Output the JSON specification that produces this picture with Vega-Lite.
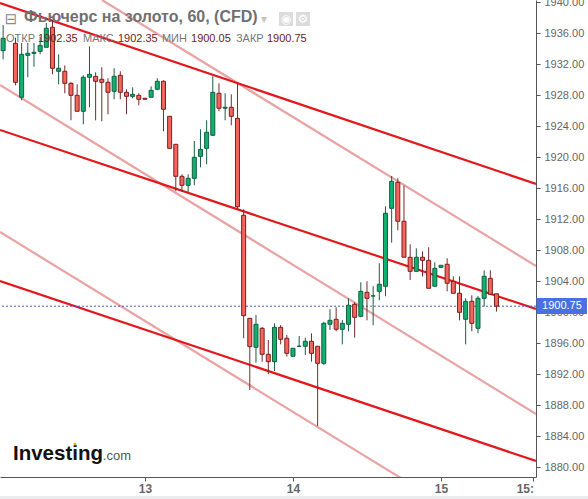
{"$schema":"https://vega.github.io/schema/vega-lite/v6.json","width":536,"height":477,"autosize":{"type":"none"},"padding":{"left":0,"right":52,"top":0,"bottom":22},"background":"#ffffff","config":{"view":{"stroke":null},"font":"Liberation Sans"},
"title":{"text":"Фьючерс на золото, 60, (CFD)","anchor":"start","frame":"group","dx":24,"dy":33,"fontSize":16,"font":"Liberation Sans","fontWeight":"bold","color":"#707070","zindex":1},
"datasets":{
"candles":[
{"t":"2020-10-12T01:00","o":1933.72,"h":1937.03,"l":1932.61,"c":1935.32},
{"t":"2020-10-12T03:00","o":1934.67,"h":1935.4,"l":1929.25,"c":1929.64},
{"t":"2020-10-12T04:00","o":1927.71,"h":1934.71,"l":1927.32,"c":1933.25},
{"t":"2020-10-12T05:00","o":1933.12,"h":1934.71,"l":1930.29,"c":1933.38},
{"t":"2020-10-12T06:00","o":1933.38,"h":1934.71,"l":1931.65,"c":1933.51},
{"t":"2020-10-12T07:00","o":1933.64,"h":1935.52,"l":1933.25,"c":1934.41},
{"t":"2020-10-12T08:00","o":1934.16,"h":1937.29,"l":1934.16,"c":1936.61},
{"t":"2020-10-12T09:00","o":1936.74,"h":1937.68,"l":1930.67,"c":1931.45},
{"t":"2020-10-12T10:00","o":1931.06,"h":1933.25,"l":1929.38,"c":1931.45},
{"t":"2020-10-12T11:00","o":1931.06,"h":1931.83,"l":1928.22,"c":1929.51},
{"t":"2020-10-12T12:00","o":1929.51,"h":1929.64,"l":1924.74,"c":1927.96},
{"t":"2020-10-12T13:00","o":1927.96,"h":1929.38,"l":1925.9,"c":1925.9},
{"t":"2020-10-12T14:00","o":1925.9,"h":1930.54,"l":1924.22,"c":1930.29},
{"t":"2020-10-12T15:00","o":1930.29,"h":1934.29,"l":1926.41,"c":1930.67},
{"t":"2020-10-12T16:00","o":1930.41,"h":1930.93,"l":1924.74,"c":1929.77},
{"t":"2020-10-12T17:00","o":1930.03,"h":1931.58,"l":1924.61,"c":1929.64},
{"t":"2020-10-12T18:00","o":1929.64,"h":1930.16,"l":1925.51,"c":1928.35},
{"t":"2020-10-12T19:00","o":1928.48,"h":1931.45,"l":1927.45,"c":1930.41},
{"t":"2020-10-12T20:00","o":1930.54,"h":1931.06,"l":1927.45,"c":1928.35},
{"t":"2020-10-12T21:00","o":1928.35,"h":1928.74,"l":1925.51,"c":1927.83},
{"t":"2020-10-12T22:00","o":1927.83,"h":1928.99,"l":1927.58,"c":1928.09},
{"t":"2020-10-12T23:00","o":1927.96,"h":1928.22,"l":1926.67,"c":1927.45},
{"t":"2020-10-13T00:00","o":1927.58,"h":1927.58,"l":1927.45,"c":1927.45},
{"t":"2020-10-13T01:00","o":1927.71,"h":1929.12,"l":1927.71,"c":1928.61},
{"t":"2020-10-13T02:00","o":1928.74,"h":1930.16,"l":1928.61,"c":1929.77},
{"t":"2020-10-13T03:00","o":1929.77,"h":1929.9,"l":1923.32,"c":1926.16},
{"t":"2020-10-13T04:00","o":1925.25,"h":1925.25,"l":1921.12,"c":1921.12},
{"t":"2020-10-13T05:00","o":1921.64,"h":1921.64,"l":1915.58,"c":1917.51},
{"t":"2020-10-13T06:00","o":1917.51,"h":1917.77,"l":1915.58,"c":1916.35},
{"t":"2020-10-13T07:00","o":1916.35,"h":1917.77,"l":1915.45,"c":1917.25},
{"t":"2020-10-13T08:00","o":1917.25,"h":1922.07,"l":1916.35,"c":1919.96},
{"t":"2020-10-13T09:00","o":1920.09,"h":1923.58,"l":1918.67,"c":1920.99},
{"t":"2020-10-13T10:00","o":1921.12,"h":1924.74,"l":1919.06,"c":1923.19},
{"t":"2020-10-13T11:00","o":1922.8,"h":1930.41,"l":1922.8,"c":1928.35},
{"t":"2020-10-13T12:00","o":1928.22,"h":1929.51,"l":1925.9,"c":1926.29},
{"t":"2020-10-13T13:00","o":1926.29,"h":1928.22,"l":1924.74,"c":1926.41},
{"t":"2020-10-13T14:00","o":1926.41,"h":1928.09,"l":1924.09,"c":1925.25},
{"t":"2020-10-13T15:00","o":1924.99,"h":1929.51,"l":1913.25,"c":1913.59},
{"t":"2020-10-13T16:00","o":1912.48,"h":1913.25,"l":1896.61,"c":1899.53},
{"t":"2020-10-13T17:00","o":1899.19,"h":1899.19,"l":1889.94,"c":1895.53},
{"t":"2020-10-13T18:00","o":1895.45,"h":1899.62,"l":1893.46,"c":1898.42},
{"t":"2020-10-13T19:00","o":1897.9,"h":1898.07,"l":1893.59,"c":1894.54},
{"t":"2020-10-13T20:00","o":1894.54,"h":1896.39,"l":1891.96,"c":1893.59},
{"t":"2020-10-13T21:00","o":1893.59,"h":1898.54,"l":1892.39,"c":1898.03},
{"t":"2020-10-13T22:00","o":1898.03,"h":1898.33,"l":1895.83,"c":1896.48},
{"t":"2020-10-13T23:00","o":1896.61,"h":1897.03,"l":1894.24,"c":1894.67},
{"t":"2020-10-14T00:00","o":1894.29,"h":1895.32,"l":1894.29,"c":1895.32},
{"t":"2020-10-14T01:00","o":1895.58,"h":1896.91,"l":1895.58,"c":1895.58},
{"t":"2020-10-14T02:00","o":1895.58,"h":1896.69,"l":1894.45,"c":1896.22},
{"t":"2020-10-14T03:00","o":1896.22,"h":1897.25,"l":1893.59,"c":1894.67},
{"t":"2020-10-14T04:00","o":1895.58,"h":1895.58,"l":1885.29,"c":1893.38},
{"t":"2020-10-14T05:00","o":1893.38,"h":1898.75,"l":1893.2,"c":1898.54},
{"t":"2020-10-14T06:00","o":1898.42,"h":1900.35,"l":1897.68,"c":1898.93},
{"t":"2020-10-14T07:00","o":1899.06,"h":1900.61,"l":1897.51,"c":1897.77},
{"t":"2020-10-14T08:00","o":1897.77,"h":1898.97,"l":1895.83,"c":1898.54},
{"t":"2020-10-14T09:00","o":1898.42,"h":1901.77,"l":1897.51,"c":1900.87},
{"t":"2020-10-14T10:00","o":1901.0,"h":1901.25,"l":1896.69,"c":1899.32},
{"t":"2020-10-14T11:00","o":1899.45,"h":1903.83,"l":1899.32,"c":1902.67},
{"t":"2020-10-14T12:00","o":1902.54,"h":1903.96,"l":1898.93,"c":1901.77},
{"t":"2020-10-14T13:00","o":1902.07,"h":1903.32,"l":1898.29,"c":1902.07},
{"t":"2020-10-14T14:00","o":1902.67,"h":1906.29,"l":1901.51,"c":1903.58},
{"t":"2020-10-14T15:00","o":1903.32,"h":1913.64,"l":1902.03,"c":1912.74},
{"t":"2020-10-14T16:00","o":1913.38,"h":1917.55,"l":1908.94,"c":1916.87},
{"t":"2020-10-14T17:00","o":1916.74,"h":1917.25,"l":1910.54,"c":1911.71},
{"t":"2020-10-14T18:00","o":1911.71,"h":1916.3,"l":1907.06,"c":1907.06},
{"t":"2020-10-14T19:00","o":1907.06,"h":1908.74,"l":1904.13,"c":1905.25},
{"t":"2020-10-14T20:00","o":1905.25,"h":1908.22,"l":1905.25,"c":1907.06},
{"t":"2020-10-14T21:00","o":1907.06,"h":1907.83,"l":1904.56,"c":1906.67},
{"t":"2020-10-14T22:00","o":1906.67,"h":1908.35,"l":1903.06,"c":1903.06},
{"t":"2020-10-14T23:00","o":1903.32,"h":1906.42,"l":1903.32,"c":1905.64},
{"t":"2020-10-15T00:00","o":1905.77,"h":1906.03,"l":1905.68,"c":1906.03},
{"t":"2020-10-15T01:00","o":1906.16,"h":1906.93,"l":1902.67,"c":1903.71},
{"t":"2020-10-15T02:00","o":1903.96,"h":1904.61,"l":1902.42,"c":1902.42},
{"t":"2020-10-15T03:00","o":1902.42,"h":1904.61,"l":1898.93,"c":1899.96},
{"t":"2020-10-15T04:00","o":1899.06,"h":1901.77,"l":1895.83,"c":1901.38},
{"t":"2020-10-15T05:00","o":1901.38,"h":1902.16,"l":1897.51,"c":1898.54},
{"t":"2020-10-15T06:00","o":1897.9,"h":1902.07,"l":1897.25,"c":1901.77},
{"t":"2020-10-15T07:00","o":1901.77,"h":1905.38,"l":1900.68,"c":1904.61},
{"t":"2020-10-15T08:00","o":1904.35,"h":1905.38,"l":1902.29,"c":1902.29},
{"t":"2020-10-15T09:00","o":1902.35,"h":1902.35,"l":1900.05,"c":1900.75}
],
"channels":[
{"name":"upper","t":"2020-10-12T00:29:30","p":1939.87},{"name":"upper","t":"2020-10-15T15:24:30","p":1916.52},
{"name":"middle","t":"2020-10-12T00:29:30","p":1923.49},{"name":"middle","t":"2020-10-15T15:24:30","p":1900.39},
{"name":"lower","t":"2020-10-12T00:29:30","p":1904.0},{"name":"lower","t":"2020-10-15T15:24:30","p":1880.78}
],
"fans":[
{"name":"a","t":"2020-10-12T17:02","p":1940.26},{"name":"a","t":"2020-10-15T15:24:30","p":1905.94},
{"name":"b","t":"2020-10-12T00:29:30","p":1929.29},{"name":"b","t":"2020-10-15T15:24:30","p":1886.84},
{"name":"c","t":"2020-10-12T00:29:30","p":1910.32},{"name":"c","t":"2020-10-15T15:24:30","p":1867.87}
],
"ohlc":[
{"label":"ОТКР","kind":"name","t":"2020-10-12T01:28","p":1935.23},
{"label":"1902.35","kind":"value","t":"2020-10-12T06:39","p":1935.23},
{"label":"МАКС","kind":"name","t":"2020-10-12T13:57","p":1935.23},
{"label":"1902.35","kind":"value","t":"2020-10-12T19:37","p":1935.23},
{"label":"МИН","kind":"name","t":"2020-10-13T02:45","p":1935.23},
{"label":"1900.05","kind":"value","t":"2020-10-13T07:28","p":1935.23},
{"label":"ЗАКР","kind":"name","t":"2020-10-13T14:45","p":1935.23},
{"label":"1900.75","kind":"value","t":"2020-10-13T19:47","p":1935.23}
],
"panels":[
{"kind":"band","t":"2020-10-12T00:29:30","t2":"2020-10-15T23:50","p":1876.26,"p2":1875.87},
{"kind":"price","t":"2020-10-15T15:30","t2":"2020-10-15T23:40","p":1901.81,"p2":1899.74}
]
},
"layer":[
{"data":{"name":"fans"},"mark":{"type":"line","color":"#e9a3a3","strokeWidth":2.2,"clip":true},"encoding":{
"x":{"field":"t","type":"temporal","title":null,"scale":{"domain":["2020-10-12T00:29:30","2020-10-15T15:24:30"],"nice":false,"padding":0},"axis":{"values":["2020-10-13T00:00","2020-10-14T00:00","2020-10-15T00:00","2020-10-15T15:00"],"tickCount":10,"labelExpr":"hours(datum.value)==15?'15:':timeFormat(datum.value,'%-d')","labelAlign":{"condition":{"test":"hours(datum.value)==15","value":"right"},"value":"center"},"grid":false,"labelOverlap":false,"labelBound":false,"labelFlush":false,"domainColor":"#555555","tickColor":"#555555","tickSize":4,"labelPadding":2,"labelColor":"#666666","labelFontSize":12,"labelFontWeight":"bold","labelFont":"Liberation Sans"}},
"y":{"field":"p","type":"quantitative","title":null,"scale":{"domain":[1878.71,1940.26],"nice":false,"zero":false},"axis":{"orient":"right","values":[1880,1884,1888,1892,1896,1900,1904,1908,1912,1916,1920,1924,1928,1932,1936,1940],"tickCount":20,"format":".2f","grid":false,"domainColor":"#555555","tickColor":"#555555","tickSize":4,"labelPadding":4,"labelColor":"#666666","labelFontSize":11,"labelFont":"Liberation Sans","labelOverlap":false,"labelBound":false,"labelFlush":false}},
"detail":{"field":"name"}}},
{"data":{"name":"channels"},"mark":{"type":"line","color":"#e3171c","strokeWidth":2.2,"clip":true},"encoding":{"x":{"field":"t","type":"temporal"},"y":{"field":"p","type":"quantitative"},"detail":{"field":"name"}}},
{"data":{"values":[{"price":1900.75}]},"mark":{"type":"rule","color":"#3f5fc4","strokeWidth":1,"strokeDash":[2,2]},"encoding":{"y":{"field":"price","type":"quantitative"}}},
{"data":{"name":"candles"},"mark":{"type":"rule","strokeWidth":1,"clip":true},"encoding":{"x":{"field":"t","type":"temporal"},"y":{"field":"l","type":"quantitative"},"y2":{"field":"h"},"color":{"condition":{"test":"datum.c>=datum.o","value":"#1f5a44"},"value":"#762a2a"}}},
{"data":{"name":"candles"},"mark":{"type":"bar","size":4,"strokeWidth":1,"clip":true},"encoding":{"x":{"field":"t","type":"temporal"},"y":{"field":"o","type":"quantitative"},"y2":{"field":"c"},"fill":{"condition":{"test":"datum.c>=datum.o","value":"#12b06f"},"value":"#f4655c"},"stroke":{"condition":{"test":"datum.c>=datum.o","value":"#0f5f40"},"value":"#7a1f1f"}}},
{"data":{"name":"panels"},"mark":{"type":"rect"},"encoding":{"x":{"field":"t","type":"temporal"},"x2":{"field":"t2"},"y":{"field":"p","type":"quantitative"},"y2":{"field":"p2"},"fill":{"condition":{"test":"datum.kind==='price'","value":"#4a6fe3"},"value":"#ebecee"}}},
{"data":{"values":[{"label":"1900.75","t":"2020-10-15T19:37","p":1900.75}]},"mark":{"type":"text","color":"#ffffff","fontSize":11,"font":"Liberation Sans","align":"center","baseline":"middle"},"encoding":{"x":{"field":"t","type":"temporal"},"y":{"field":"p","type":"quantitative"},"text":{"field":"label"}}},
{"data":{"name":"ohlc"},"mark":{"type":"text","fontSize":11,"font":"Liberation Sans","align":"left","baseline":"middle"},"encoding":{"x":{"field":"t","type":"temporal"},"y":{"field":"p","type":"quantitative"},"text":{"field":"label"},"color":{"condition":{"test":"datum.kind==='value'","value":"#6e2222"},"value":"#777777"}}},
{"data":{"values":[{"glyph":"⊟","t":"2020-10-12T02:16","p":1937.81}]},"mark":{"type":"text","fontSize":15,"font":"DejaVu Sans","color":"#8a8a8a","align":"center","baseline":"middle"},"encoding":{"x":{"field":"t","type":"temporal"},"y":{"field":"p","type":"quantitative"},"text":{"field":"glyph"}}},
{"data":{"values":[{"glyph":"▾","t":"2020-10-13T19:18","p":1937.81}]},"mark":{"type":"text","fontSize":12,"font":"DejaVu Sans","color":"#c4c4c4","align":"center","baseline":"middle"},"encoding":{"x":{"field":"t","type":"temporal"},"y":{"field":"p","type":"quantitative"},"text":{"field":"glyph"}}},
{"data":{"values":[{"t":"2020-10-13T22:52","p":1937.81},{"t":"2020-10-14T01:37","p":1937.81}]},"mark":{"type":"point","shape":"square","filled":true,"size":196,"color":"#dcdcdc","opacity":1},"encoding":{"x":{"field":"t","type":"temporal"},"y":{"field":"p","type":"quantitative"}}},
{"data":{"values":[{"glyph":"◉","t":"2020-10-13T22:52","p":1937.81},{"glyph":"⚙","t":"2020-10-14T01:37","p":1937.81}]},"mark":{"type":"text","fontSize":12,"font":"DejaVu Sans","color":"#ffffff","align":"center","baseline":"middle"},"encoding":{"x":{"field":"t","type":"temporal"},"y":{"field":"p","type":"quantitative"},"text":{"field":"glyph"}}},
{"data":{"values":[{"label":"Investing","t":"2020-10-12T02:36","p":1881.68}]},"mark":{"type":"text","fontSize":20.5,"font":"Liberation Sans","fontWeight":"bold","color":"#111111","align":"left","baseline":"middle"},"encoding":{"x":{"field":"t","type":"temporal"},"y":{"field":"p","type":"quantitative"},"text":{"field":"label"}}},
{"data":{"values":[{"label":".com","t":"2020-10-12T17:10","p":1881.42}]},"mark":{"type":"text","fontSize":13,"font":"Liberation Sans","color":"#555555","align":"left","baseline":"middle"},"encoding":{"x":{"field":"t","type":"temporal"},"y":{"field":"p","type":"quantitative"},"text":{"field":"label"}}},
{"data":{"values":[{"t":"2020-10-12T12:39","p":1882.97}]},"mark":{"type":"point","shape":"circle","filled":true,"size":8,"color":"#f2b705","opacity":1},"encoding":{"x":{"field":"t","type":"temporal"},"y":{"field":"p","type":"quantitative"}}}
]}
